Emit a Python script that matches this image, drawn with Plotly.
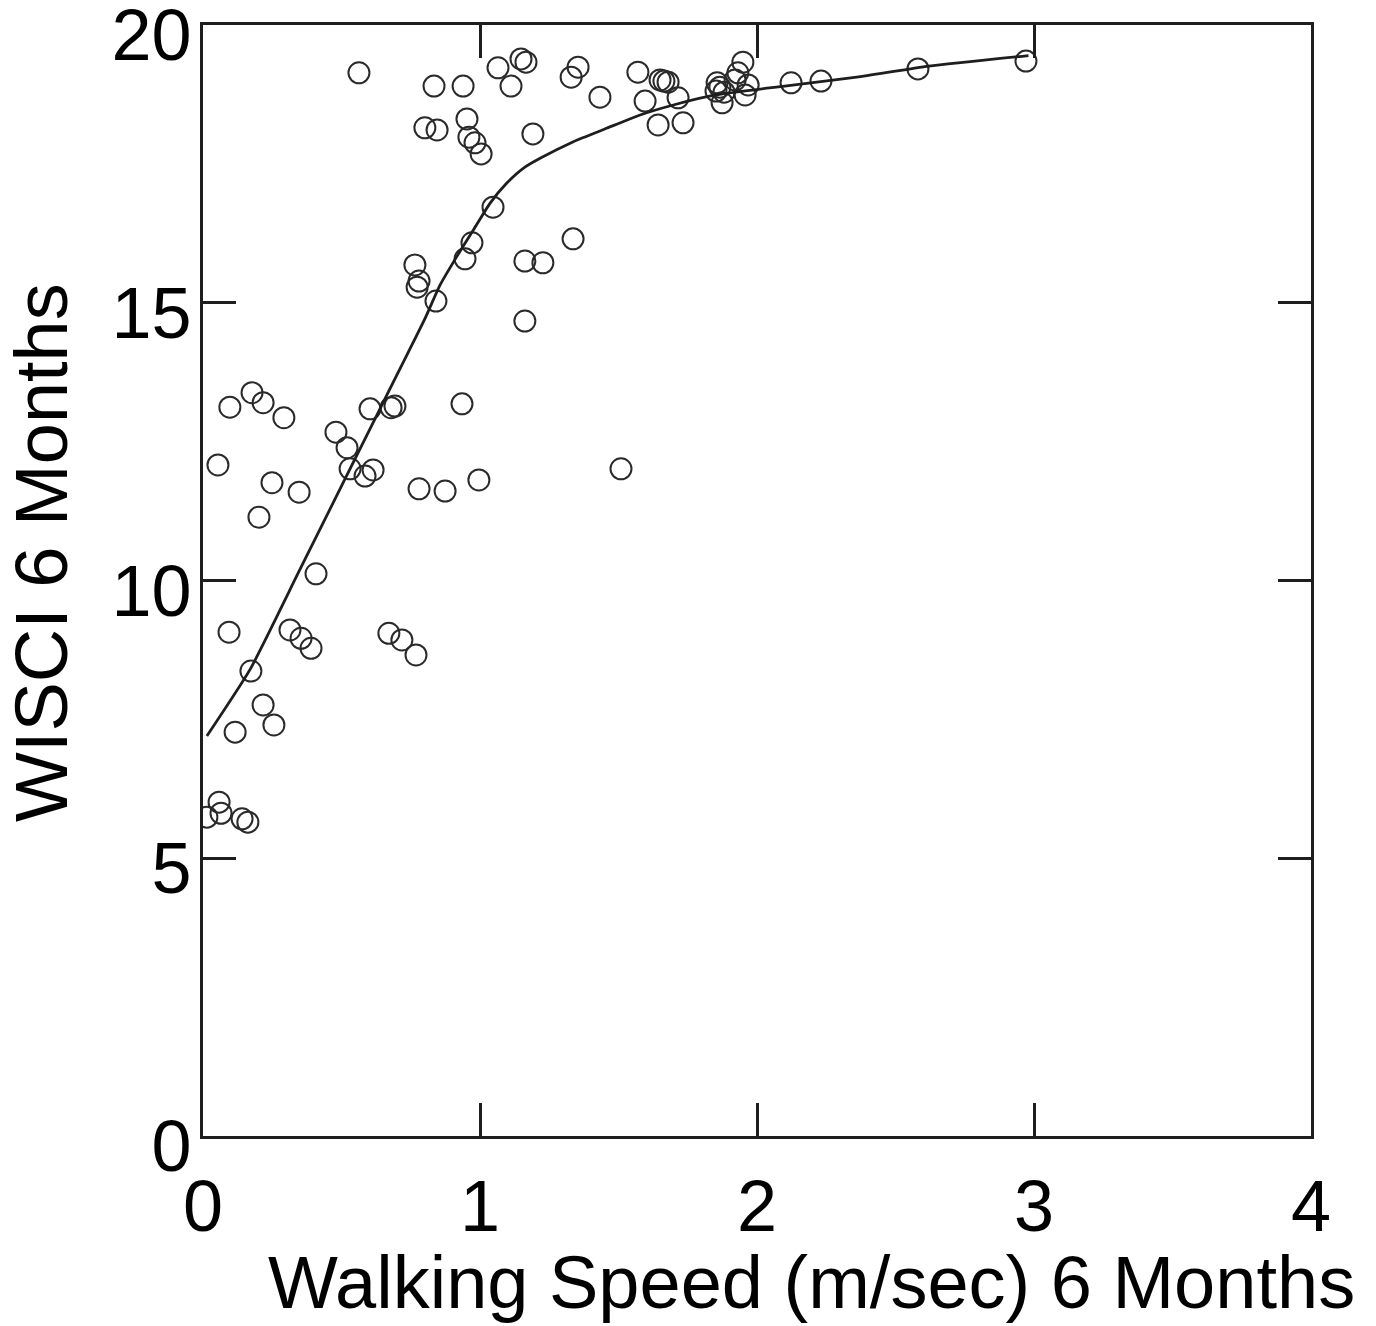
import plotly.graph_objects as go

# Scatter data: walking speed (m/sec) vs WISCI at 6 months
speed = [0.563, 0.834, 0.939, 1.065, 1.148, 1.166, 1.112, 1.329, 1.354, 1.433,
         1.570, 1.596, 1.650, 1.664, 1.679, 1.715, 1.643, 1.733, 1.856, 1.866,
         1.852, 1.881, 1.874, 1.921, 1.931, 1.949, 1.968, 1.957, 2.123, 2.231,
         2.581, 2.971, 0.801, 0.845, 0.953, 0.960, 0.982, 1.004, 1.191, 1.047,
         0.971, 0.946, 1.162, 1.227, 1.336, 0.765, 0.780, 0.773, 0.841, 1.162,
         0.097, 0.177, 0.217, 0.292, 0.480, 0.520, 0.603, 0.679, 0.693, 0.935,
         0.054, 0.249, 0.347, 0.202, 0.531, 0.585, 0.614, 0.780, 0.874, 0.996,
         1.509, 0.408, 0.094, 0.314, 0.354, 0.390, 0.671, 0.718, 0.769, 0.173,
         0.217, 0.256, 0.116, 0.058, 0.065, 0.014, 0.141, 0.162]
wisci = [19.14, 18.90, 18.90, 19.23, 19.39, 19.33, 18.90, 19.06, 19.24, 18.70,
         19.15, 18.63, 19.01, 18.99, 18.97, 18.69, 18.20, 18.24, 18.96, 18.88,
         18.81, 18.79, 18.60, 19.01, 19.14, 19.33, 18.92, 18.74, 18.96, 18.99,
         19.21, 19.35, 18.15, 18.11, 18.31, 17.98, 17.88, 17.68, 18.04, 16.72,
         16.08, 15.79, 15.75, 15.72, 16.15, 15.68, 15.39, 15.28, 15.03, 14.67,
         13.12, 13.38, 13.20, 12.93, 12.67, 12.39, 13.09, 13.11, 13.14, 13.18,
         12.08, 11.76, 11.59, 11.14, 12.01, 11.88, 11.99, 11.65, 11.61, 11.81,
         12.01, 10.12, 9.07, 9.11, 8.96, 8.78, 9.05, 8.93, 8.66, 8.37,
         7.76, 7.40, 7.27, 6.01, 5.81, 5.74, 5.71, 5.65]

# Fitted smooth curve
fit_x = [0.014, 0.17, 0.35, 0.52, 0.63, 0.71, 0.80, 0.856, 0.916, 0.976,
         1.036, 1.096, 1.156, 1.217, 1.337, 1.457, 1.578, 1.698, 1.85, 2.10,
         2.36, 2.62, 2.98]
fit_y = [7.2, 8.4, 10.2, 11.9, 13.0, 13.8, 14.7, 15.32, 15.83, 16.31,
         16.79, 17.15, 17.42, 17.60, 17.90, 18.14, 18.38, 18.56, 18.74, 18.9,
         19.06, 19.26, 19.45]

x_ticks = [0, 1, 2, 3, 4]
y_ticks = [0, 5, 10, 15, 20]
x_title = "Walking Speed (m/sec) 6 Months"
y_title = "WISCI 6 Months"

FONT = "Liberation Sans, Arial, sans-serif"
INK = "#1e1e1e"

fig = go.Figure()
fig.add_trace(go.Scatter(
    x=speed, y=wisci, mode="markers",
    marker=dict(symbol="circle", size=21, color="rgba(0,0,0,0)",
                line=dict(color="#2a2a2a", width=2)),
    showlegend=False, hoverinfo="x+y"))
fig.add_trace(go.Scatter(
    x=fit_x, y=fit_y, mode="lines",
    line=dict(color=INK, width=2.8, shape="spline", smoothing=0.5),
    showlegend=False))

axis_common = dict(showline=True, mirror="ticks", linecolor=INK, linewidth=3,
                   ticks="inside", ticklen=33, tickwidth=2.5, tickcolor=INK,
                   showgrid=False, zeroline=False, ticklabeloverflow="allow",
                   automargin=False,
                   tickfont=dict(family=FONT, size=72, color="black"))

fig.update_xaxes(range=[0, 4], tickvals=x_ticks, ticktext=[str(v) for v in x_ticks],
                 ticklabelstandoff=6, **axis_common)
fig.update_yaxes(range=[0, 20], tickvals=y_ticks, ticktext=[str(v) for v in y_ticks],
                 ticklabelstandoff=-6, ticklabelshift=10, **axis_common)

fig.add_annotation(text=x_title, xref="paper", yref="paper",
                   x=0.5496, y=-0.132, xanchor="center", yanchor="middle",
                   showarrow=False, font=dict(family=FONT, size=74, color="black"))
fig.add_annotation(text=y_title, xref="paper", yref="paper",
                   x=-0.1453, y=0.5248, xanchor="center", yanchor="middle",
                   textangle=-90, showarrow=False,
                   font=dict(family=FONT, size=74, color="black"))

# the page adds an 8px body margin, so the figure is sized to compensate
fig.update_layout(width=1368, height=1318,
                  margin=dict(l=195, r=65, t=17, b=190, autoexpand=False),
                  paper_bgcolor="white", plot_bgcolor="white")

fig.write_html("out.html")
